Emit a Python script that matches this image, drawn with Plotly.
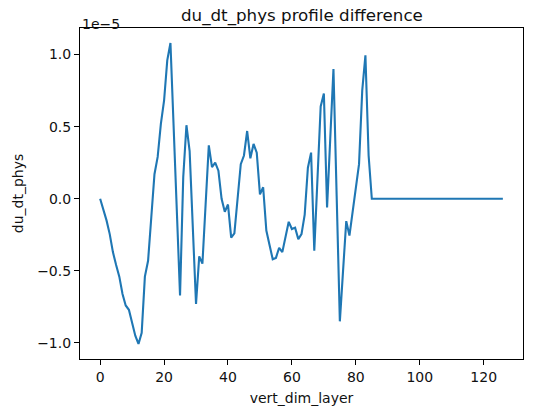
import numpy as np
import plotly.graph_objects as go

# du_dt_phys difference per layer, in units of 1e-5
scale = 1e-5
layer_vals = [
    0.0, -0.07, -0.15, -0.245, -0.37, -0.46, -0.54, -0.66, -0.74, -0.77,
    -0.86, -0.95, -1.007, -0.93, -0.54, -0.43, -0.13, 0.17, 0.29, 0.52,
    0.68, 0.96, 1.08, 0.50, -0.08, -0.67, 0.15, 0.51, 0.33, -0.20,
    -0.73, -0.40, -0.45, -0.04, 0.37, 0.22, 0.25, 0.195, 0.0, -0.09,
    -0.04, -0.27, -0.24, 0.0, 0.24, 0.30, 0.47, 0.28, 0.38, 0.32,
    0.03, 0.08, -0.22, -0.32, -0.42, -0.41, -0.34, -0.37, -0.26, -0.16,
    -0.21, -0.20, -0.28, -0.245, -0.11, 0.215, 0.32, -0.36, 0.14, 0.64,
    0.73, -0.06, 0.42, 0.90, 0.02, -0.85, -0.50, -0.155, -0.255, -0.09,
    0.08, 0.24, 0.75, 0.995, 0.30,
]
n_layers = 127
# layers below ~85 have no difference
diff = layer_vals + [0.0] * (n_layers - len(layer_vals))
layers = list(range(n_layers))

x_ticks = [0, 20, 40, 60, 80, 100, 120]
y_ticks = [-1.0, -0.5, 0.0, 0.5, 1.0]
y_tick_text = ["\u22121.0", "\u22120.5", "0.0", "0.5", "1.0"]

y = np.array(diff) * scale

FONT = "DejaVu Sans"
TXT = "#111111"
fig = go.Figure()
fig.add_trace(go.Scatter(
    x=layers, y=y, mode="lines",
    line=dict(color="#1f77b4", width=2.1),
    showlegend=False,
))

# matplotlib-style 5% margins
xlo, xhi = min(layers), max(layers)
xpad = 0.05 * (xhi - xlo)
ylo, yhi = float(y.min()), float(y.max())
ypad = 0.05 * (yhi - ylo)

axis_common = dict(
    showgrid=False, zeroline=False, automargin=False,
    showline=True, mirror=True, linecolor="black", linewidth=1.1,
    ticks="outside", ticklen=5, tickwidth=1.1, tickcolor="black",
    tickfont=dict(family=FONT, size=14, color=TXT),
)

fig.update_layout(
    width=534, height=412,
    paper_bgcolor="white", plot_bgcolor="white",
    margin=dict(l=80, r=11, t=28, b=53),
    font=dict(family=FONT, color=TXT),
    xaxis=dict(
        range=[xlo - xpad, xhi + xpad],
        tickvals=x_ticks,
        title=dict(text="vert_dim_layer", font=dict(family=FONT, size=14, color=TXT), standoff=9),
        **axis_common,
    ),
    yaxis=dict(
        range=[ylo - ypad, yhi + ypad],
        tickvals=[v * scale for v in y_ticks],
        ticktext=y_tick_text,
        title=dict(text="du_dt_phys", font=dict(family=FONT, size=14, color=TXT), standoff=10),
        **axis_common,
    ),
)

fig.add_annotation(
    text="du_dt_phys profile difference",
    xref="paper", yref="paper", x=0.5, y=1.0,
    xanchor="center", yanchor="bottom", yshift=0,
    showarrow=False, font=dict(family=FONT, size=16.7, color=TXT),
)
fig.add_annotation(
    text="1e\u22125",
    xref="paper", yref="paper", x=0.0, y=1.0,
    xanchor="left", yanchor="bottom", yshift=-6,
    showarrow=False, font=dict(family=FONT, size=14, color=TXT),
)

# drop the page's default 8px body margin so the figure fills the window
fig.write_html("out.html", config={"displayModeBar": False},
               post_script="document.body.style.margin='0px';")
